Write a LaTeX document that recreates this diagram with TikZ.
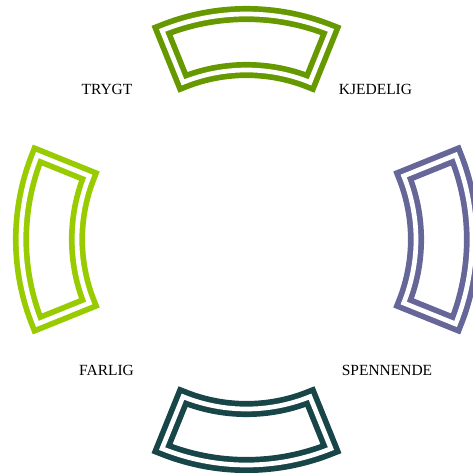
\documentclass[tikz,border=0pt]{standalone}
\usepackage{fontspec}
\setmainfont{Liberation Serif}
\definecolor{ctop}{RGB}{102,153,0}
\definecolor{cleft}{RGB}{153,204,0}
\definecolor{cright}{RGB}{102,102,153}
\definecolor{cbot}{RGB}{24,70,72}
\begin{document}
\begin{tikzpicture}[x=1pt,y=1pt,
  seg/.style={draw=#1, double=white, line width=5.7pt, double distance=4.7pt},
  lab/.style={font=\fontsize{15.5}{18}\selectfont, inner sep=0pt, anchor=base}]
\useasboundingbox (0,0) rectangle (473,472);
\clip (0,0) rectangle (473,472);
\coordinate (c) at (246.5,232.5);
\foreach \a/\col in {90/ctop,180/cleft,0/cright,270/cbot} {
  \pgfmathsetmacro{\aa}{\a-22}
  \pgfmathsetmacro{\ab}{\a+22}
  \draw[seg=\col] ([shift={(c)}]\aa:225.5) arc[start angle=\aa, end angle=\ab, radius=225.5]
     -- ([shift={(c)}]\ab:169.5) arc[start angle=\ab, end angle=\aa, radius=169.5] -- cycle;
}
\node[lab] (trygt) at (107,377) {TRYGT};
\node[lab] (kjedelig) at (375.5,377) {KJEDELIG};
\node[lab] (farlig) at (106.5,97) {FARLIG};
\node[lab] (spennende) at (387,97) {SPENNENDE};
\end{tikzpicture}
\end{document}
